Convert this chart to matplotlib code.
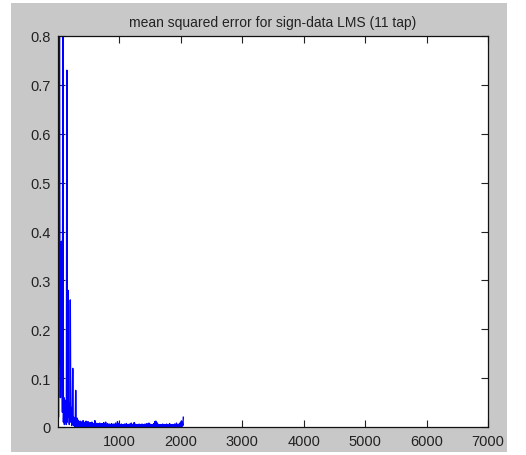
import numpy as np
import matplotlib.pyplot as plt
from matplotlib.patches import Rectangle

# MSE curve, one value every 8 iterations starting at iteration 1
step = 8
mse_head = [
    0.21, 0.02, 0.19, 0.95, 0.20, 0.06, 0.19, 0.38,
    0.20, 0.03, 0.95, 0.01, 0.06, 0.005, 0.055, 0.01,
    0.05, 0.005, 0.73, 0.01, 0.28, 0.02, 0.05, 0.005,
    0.045, 0.26, 0.01, 0.04, 0.003, 0.02, 0.12, 0.005,
    0.02, 0.002, 0.015, 0.001, 0.075, 0.005, 0.001, 0.018,
]
mse_tail = [
    0.001, 0.014, 0.002, 0.010, 0.001, 0.012, 0.002, 0.009,
    0.001, 0.011, 0.001, 0.013, 0.001, 0.008, 0.001, 0.010,
    0.002, 0.012, 0.001, 0.007, 0.0005, 0.011, 0.001, 0.006,
    0.0005, 0.009, 0.001, 0.008, 0.0005, 0.010, 0.001, 0.006,
    0.0005, 0.007, 0.001, 0.013, 0.001, 0.008, 0.0005, 0.006,
    0.001, 0.007, 0.0005, 0.006, 0.001, 0.008, 0.0005, 0.005,
    0.001, 0.007, 0.0005, 0.006, 0.001, 0.009, 0.0005, 0.006,
    0.001, 0.010, 0.0005, 0.005, 0.001, 0.007, 0.0005, 0.005,
    0.0005, 0.006, 0.001, 0.005, 0.0005, 0.007, 0.001, 0.005,
    0.0005, 0.006, 0.0005, 0.005, 0.001, 0.008, 0.0005, 0.004,
    0.001, 0.011, 0.001, 0.007, 0.0005, 0.006, 0.001, 0.005,
    0.0005, 0.006, 0.001, 0.005, 0.0005, 0.004, 0.001, 0.006,
    0.0005, 0.005, 0.001, 0.007, 0.0005, 0.005, 0.0005, 0.004,
    0.001, 0.006, 0.0005, 0.005, 0.001, 0.008, 0.0005, 0.005,
    0.001, 0.006, 0.001, 0.009, 0.0005, 0.006, 0.001, 0.005,
    0.0005, 0.005, 0.001, 0.004, 0.0005, 0.006, 0.0005, 0.004,
    0.001, 0.005, 0.0005, 0.006, 0.001, 0.004, 0.0005, 0.005,
    0.0005, 0.006, 0.001, 0.005, 0.0005, 0.007, 0.001, 0.005,
    0.0005, 0.008, 0.001, 0.006, 0.0005, 0.005, 0.001, 0.004,
    0.0005, 0.005, 0.001, 0.007, 0.001, 0.011, 0.002, 0.012,
    0.001, 0.009, 0.001, 0.006, 0.0005, 0.005, 0.001, 0.004,
    0.0005, 0.005, 0.0005, 0.004, 0.001, 0.006, 0.0005, 0.004,
    0.0005, 0.005, 0.001, 0.004, 0.0005, 0.006, 0.001, 0.004,
    0.0005, 0.004, 0.001, 0.007, 0.0005, 0.005, 0.0005, 0.004,
    0.001, 0.005, 0.0005, 0.004, 0.001, 0.006, 0.0005, 0.005,
    0.001, 0.008, 0.0005, 0.005, 0.001, 0.004, 0.001, 0.007,
    0.001, 0.009, 0.002, 0.012, 0.001, 0.010, 0.003, 0.020,
]
x_ticks = [1000, 2000, 3000, 4000, 5000, 6000, 7000]
y_ticks = [0, 0.1, 0.2, 0.3, 0.4, 0.5, 0.6, 0.7, 0.8]
y_labels = ["0", "0.1", "0.2", "0.3", "0.4", "0.5", "0.6", "0.7", "0.8"]
title = "mean squared error for sign-data LMS (11 tap)"

mse = np.array(mse_head + mse_tail)
iters = 1 + step * np.arange(len(mse))

plt.rcParams["font.family"] = ["Liberation Sans", "DejaVu Sans"]

W, H = 526, 456
fig = plt.figure(figsize=(W / 100, H / 100), dpi=100, facecolor="white")
# grey MATLAB window area inside the white screenshot border
fig.patches.append(Rectangle((11 / W, 1 - 453 / H), (507 - 11) / W, (453 - 4) / H,
                             transform=fig.transFigure, facecolor="#c8c8c8",
                             edgecolor="none", zorder=-10))

ax = fig.add_axes([58 / W, 1 - 428 / H, (488 - 58) / W, (428 - 37) / H])
ax.set_zorder(1)
ax.set_facecolor("white")
ax.plot(iters, mse, color="#0000ff", lw=1.0)

ax.set_xlim(1, 7000)
ax.set_ylim(0, 0.8)
ax.set_xticks(x_ticks)
ax.set_yticks(y_ticks, y_labels)
ax.tick_params(direction="in", length=5, width=0.8, top=True, right=True,
               labelsize=10.5, colors="#222222", pad=5)
for s in ax.spines.values():
    s.set_linewidth(0.9)
    s.set_color("#111111")
ax.set_title(title, fontsize=10, color="#222222", pad=7)

fig.savefig("out.png", dpi=100, facecolor=fig.get_facecolor())
